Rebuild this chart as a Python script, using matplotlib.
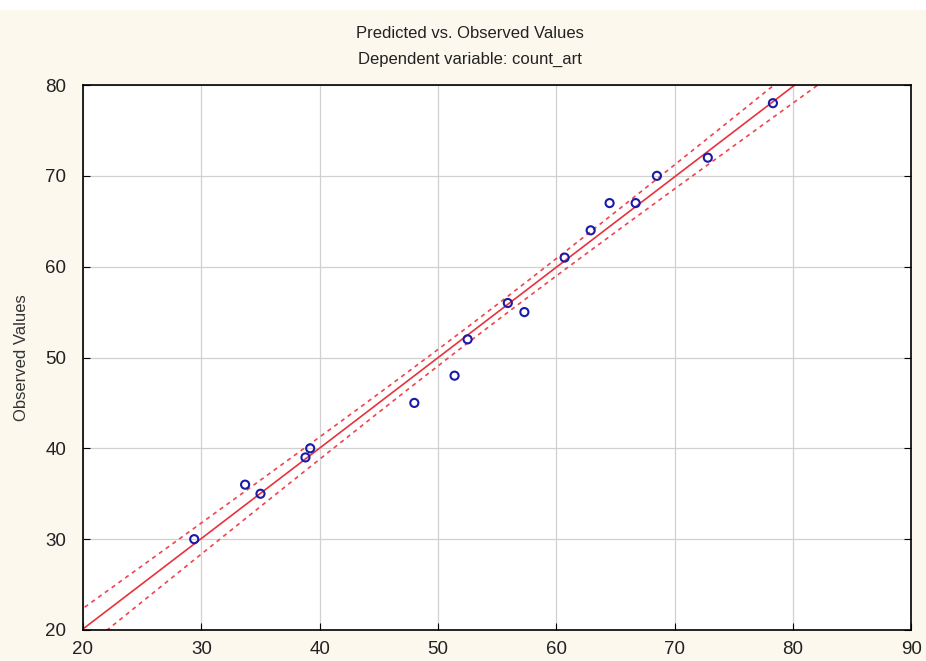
import numpy as np
import matplotlib.pyplot as plt
from matplotlib.patches import Rectangle

# predicted vs observed
predicted = [29.4, 33.7, 35.0, 38.8, 39.2, 48.0, 51.4, 52.5, 55.9, 57.3,
             60.7, 62.9, 64.5, 66.7, 68.5, 72.8, 78.3]
observed = [30, 36, 35, 39, 40, 45, 48, 52, 56, 55,
            61, 64, 67, 67, 70, 72, 78]
x_ticks = [20, 30, 40, 50, 60, 70, 80, 90]
y_ticks = [20, 30, 40, 50, 60, 70, 80]

plt.rcParams['font.family'] = ['Liberation Sans', 'DejaVu Sans']

x = np.array(predicted)
y = np.array(observed)
n = len(x)

# linear fit + 95% confidence band for the mean
slope, intercept = np.polyfit(x, y, 1)
resid = y - (slope * x + intercept)
s = np.sqrt(np.sum(resid ** 2) / (n - 2))
sxx = np.sum((x - x.mean()) ** 2)
t_crit = 2.131  # t(0.975, df=15)

xs = np.linspace(15, 95, 400)
fit = slope * xs + intercept
half = t_crit * s * np.sqrt(1 / n + (xs - x.mean()) ** 2 / sxx)

bg = '#fcf8ee'
fig = plt.figure(figsize=(9.26, 6.61), dpi=100, facecolor=bg)
# thin white strip along the top edge
fig.patches.append(Rectangle((0, 0.985), 1, 0.015, transform=fig.transFigure,
                             facecolor='white', edgecolor='none', zorder=0))
ax = fig.add_axes([0.0896, 0.0469, 0.8946, 0.8245])
ax.set_facecolor('white')

red = '#e8323c'
ax.plot(xs, fit, color=red, lw=1.2, zorder=2)
ax.plot(xs, fit + half, color='#ee4450', lw=1.2, ls=(0, (2.5, 2.5)), zorder=2)
ax.plot(xs, fit - half, color='#ee4450', lw=1.2, ls=(0, (2.5, 2.5)), zorder=2)

ax.scatter(x, y, s=34, facecolors='none', edgecolors='#1a1aa8',
           linewidths=1.5, zorder=3)

ax.set_xlim(20, 90)
ax.set_ylim(20, 80)
ax.set_xticks(x_ticks)
ax.set_yticks(y_ticks)
ax.grid(True, color='#d0d0d0', lw=0.9)
ax.set_axisbelow(True)
for sp in ax.spines.values():
    sp.set_color('black')
    sp.set_linewidth(1.2)
ax.tick_params(direction='in', length=5, labelsize=13.5, labelcolor='#222222',
               pad=12, right=True)
ax.tick_params(axis='x', pad=8)

ax.set_ylabel('Observed Values', fontsize=12, color='#333333', labelpad=12)
fig.text(0.508, 0.950, 'Predicted vs. Observed Values', ha='center',
         va='center', fontsize=12, color='#222222')
fig.text(0.508, 0.910, 'Dependent variable: count_art', ha='center',
         va='center', fontsize=12, color='#222222')

fig.savefig('out.png', dpi=100, facecolor=bg)
